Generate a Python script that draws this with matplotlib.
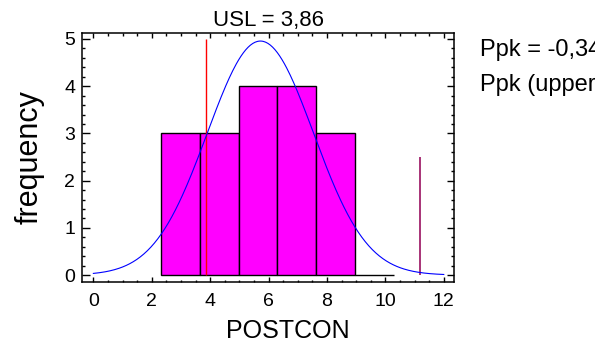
import numpy as np
import matplotlib
matplotlib.use("Agg")
import matplotlib.pyplot as plt
from matplotlib.ticker import MultipleLocator

plt.rcParams['font.family'] = ['Liberation Sans', 'DejaVu Sans']

# histogram of POSTCON (bin edges and counts)
bin_edges = [2.31, 3.64, 4.97, 6.30, 7.63, 8.96, 10.29]
counts = [3, 3, 4, 4, 3, 0]

# fitted normal curve
fit_mean = 5.72
fit_sd = 1.82
curve_range = (0.0, 12.0)

# spec / reference lines
usl = 3.86
usl_height = 5
ref_line = 11.18
ref_height = 2.5

title_text = "USL = 3,86"
side_texts = ["Ppk = -0,34", "Ppk (upper) = -0,34"]

fig = plt.figure(figsize=(5.95, 3.47), dpi=100)
ax = fig.add_axes([0.1383, 0.1882, 0.7635 - 0.1383, 0.904 - 0.1882])

widths = np.diff(bin_edges)
ax.bar(bin_edges[:-1], counts, width=widths, align='edge',
       color='#FF00FF', edgecolor='black', linewidth=1.0, zorder=2)

# normal curve scaled to the histogram
n = sum(counts)
bw = widths.mean()
xs = np.linspace(curve_range[0], curve_range[1], 300)
ys = n * bw * np.exp(-0.5 * ((xs - fit_mean) / fit_sd) ** 2) / (fit_sd * np.sqrt(2 * np.pi))
ax.plot(xs, ys, color='#0000FF', linewidth=0.8, zorder=4)

ax.vlines(usl, 0, usl_height, color='#FF0000', linewidth=1.0, zorder=3)
ax.vlines(ref_line, 0, ref_height, color='#9A1060', linewidth=1.2, zorder=3)

ax.set_xlim(-0.38, 12.36)
ax.set_ylim(-0.14, 5.12)
ax.xaxis.set_major_locator(MultipleLocator(2))
ax.xaxis.set_minor_locator(MultipleLocator(0.5))
ax.yaxis.set_major_locator(MultipleLocator(1))
ax.yaxis.set_minor_locator(MultipleLocator(0.2))

ax.tick_params(axis='x', which='both', direction='in', top=True, bottom=True,
               labelsize=14, pad=8)
ax.tick_params(axis='y', which='both', direction='in', left=True, right=True,
               labelsize=14, pad=5)
ax.tick_params(axis='x', which='major', length=3.6, width=1)
ax.tick_params(axis='x', which='minor', length=1.8, width=1)
ax.tick_params(axis='y', which='major', length=5.4, width=1)
ax.tick_params(axis='y', which='minor', length=2.5, width=1)
for s in ax.spines.values():
    s.set_linewidth(1.1)

ax.set_xlabel("POSTCON", fontsize=18)
ax.xaxis.set_label_coords(0.552, -0.152)
ax.set_ylabel("frequency", fontsize=22)
ax.yaxis.set_label_coords(-0.10, 0.5)
ax.set_title(title_text, fontsize=16, pad=5)

fig.text(480 / 595, 1 - 50 / 347, side_texts[0], fontsize=17, va='center', ha='left')
fig.text(480 / 595, 1 - 85 / 347, side_texts[1], fontsize=17, va='center', ha='left')

fig.savefig("out.png", dpi=100)
